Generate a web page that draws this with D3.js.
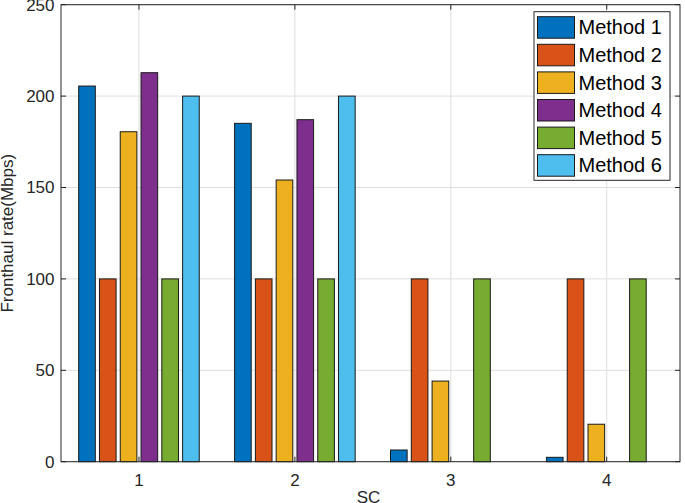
<!DOCTYPE html>
<html><head><meta charset="utf-8">
<script src="https://cdn.jsdelivr.net/npm/d3@7"></script>
<style>html,body{margin:0;padding:0;background:#fff;}svg{display:block;}</style>
</head><body>
<script>
const categories = [1, 2, 3, 4];
const seriesNames = ["Method 1", "Method 2", "Method 3", "Method 4", "Method 5", "Method 6"];
const method1 = [205.5, 185.1, 6.4, 2.4];
const method2 = [100, 100, 100, 100];
const method3 = [180.5, 154.1, 44.1, 20.5];
const method4 = [212.8, 187.1, 0, 0];
const method5 = [100, 100, 100, 100];
const method6 = [200, 200, 0, 0];
const seriesValues = [method1, method2, method3, method4, method5, method6];
const colors = ["#0072BD", "#D95319", "#EDB120", "#7E2F8E", "#77AC30", "#4DBEEE"];
const yTicks = [0, 50, 100, 150, 200, 250];

const W = 685, H = 503;
const L = 61, R = 680, T = 4.7, B = 461.7;
const svg = d3.select("body").append("svg").attr("width", W).attr("height", H);
const font = "'Liberation Sans', Arial, Helvetica, sans-serif";
const axisCol = "#262626";

const x = d3.scaleLinear().domain([0.5, 4.47]).range([L, R]);
const y = d3.scaleLinear().domain([0, 250]).range([B, T]);

// grid
const g = svg.append("g");
g.selectAll(".gy").data(yTicks).join("line")
  .attr("x1", L).attr("x2", R).attr("y1", d => y(d)).attr("y2", d => y(d))
  .attr("stroke", "#dfdfdf").attr("stroke-width", 1);
g.selectAll(".gx").data(categories).join("line")
  .attr("y1", T).attr("y2", B).attr("x1", d => x(d)).attr("x2", d => x(d))
  .attr("stroke", "#dfdfdf").attr("stroke-width", 1);

// bars
const n = seriesNames.length;
const groupW = Math.min(0.8, n / (n + 1.5));
const step = groupW / n;
const barW = step * 0.8;
seriesValues.forEach((vals, si) => {
  svg.append("g").selectAll("rect").data(vals.map((v, i) => ({c: categories[i], v})).filter(d => d.v > 0))
    .join("rect")
    .attr("x", d => x(d.c + (si - (n - 1) / 2) * step - barW / 2))
    .attr("width", d => x(barW) - x(0))
    .attr("y", d => y(d.v))
    .attr("height", d => y(0) - y(d.v))
    .attr("fill", colors[si])
    .attr("stroke", "#1a1a1a").attr("stroke-width", 1);
});

// axes box
svg.append("rect").attr("x", L).attr("y", T).attr("width", R - L).attr("height", B - T)
  .attr("fill", "none").attr("stroke", axisCol).attr("stroke-width", 1);

// ticks (inward)
const tl = 5;
yTicks.forEach(t => {
  svg.append("line").attr("x1", L).attr("x2", L + tl).attr("y1", y(t)).attr("y2", y(t)).attr("stroke", axisCol);
  svg.append("line").attr("x1", R).attr("x2", R - tl).attr("y1", y(t)).attr("y2", y(t)).attr("stroke", axisCol);
});
categories.forEach(c => {
  svg.append("line").attr("x1", x(c)).attr("x2", x(c)).attr("y1", B).attr("y2", B - tl).attr("stroke", axisCol);
  svg.append("line").attr("x1", x(c)).attr("x2", x(c)).attr("y1", T).attr("y2", T + tl).attr("stroke", axisCol);
});

// tick labels
svg.append("g").selectAll("text").data(yTicks).join("text")
  .attr("x", L - 6.5).attr("y", d => y(d)).attr("dy", "0.35em")
  .attr("text-anchor", "end").attr("font-family", font).attr("font-size", 17)
  .attr("fill", axisCol).text(d => d);
svg.append("g").selectAll("text").data(categories).join("text")
  .attr("x", d => x(d)).attr("y", 486)
  .attr("text-anchor", "middle").attr("font-family", font).attr("font-size", 17)
  .attr("fill", axisCol).text(d => d);

// axis labels
svg.append("text").attr("x", (L + R) / 2 - 2).attr("y", 503)
  .attr("text-anchor", "middle").attr("font-family", font).attr("font-size", 17)
  .attr("fill", axisCol).text("SC");
svg.append("text").attr("transform", `translate(13,${(T + B) / 2}) rotate(-90)`)
  .attr("text-anchor", "middle").attr("font-family", font).attr("font-size", 17)
  .attr("fill", axisCol).text("Fronthaul rate(Mbps)");

// legend
const lx = 534, ly = 11.7, lw = 136, pitch = 27.6;
svg.append("rect").attr("x", lx).attr("y", ly).attr("width", lw).attr("height", pitch * n + 3)
  .attr("fill", "#fff").attr("stroke", axisCol).attr("stroke-width", 1);
seriesNames.forEach((name, i) => {
  const yy = ly + 5 + i * pitch;
  svg.append("rect").attr("x", lx + 3.5).attr("y", yy).attr("width", 37).attr("height", 21.5)
    .attr("fill", colors[i]).attr("stroke", "#1a1a1a").attr("stroke-width", 1);
  svg.append("text").attr("x", lx + 44.5).attr("y", yy + 10.75).attr("dy", "0.35em")
    .attr("font-family", font).attr("font-size", 20).attr("fill", "#000").text(name);
});
</script>
</body></html>
